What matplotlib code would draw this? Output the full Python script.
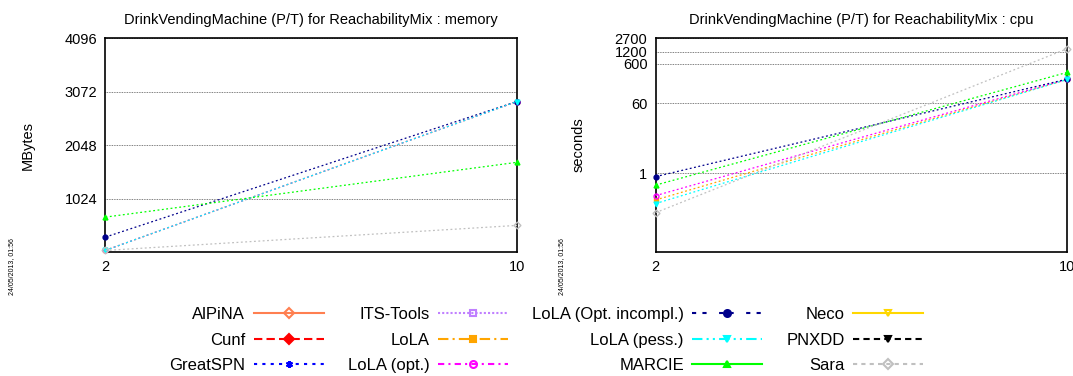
import matplotlib.pyplot as plt
from matplotlib.lines import Line2D

plt.rcParams['font.family'] = ['Liberation Sans', 'DejaVu Sans']

# model sizes (x axis)
sizes = [2, 10]

# tools, in legend order
tools = ["AlPiNA", "Cunf", "GreatSPN", "ITS-Tools", "LoLA", "LoLA (opt.)",
         "LoLA (Opt. incompl.)", "LoLA (pess.)", "MARCIE", "Neco", "PNXDD", "Sara"]

# memory (MBytes) per tool, only tools that produced values
mem_lola = [32, 2881]
mem_lola_opt = [32, 2881]
mem_lola_incompl = [286, 2881]
mem_lola_pess = [32, 2881]
mem_marcie = [668, 1717]
mem_sara = [30, 509]

# cpu (seconds)
cpu_lola = [0.21, 240]
cpu_lola_opt = [0.27, 245]
cpu_lola_incompl = [0.82, 245]
cpu_lola_pess = [0.17, 240]
cpu_marcie = [0.5, 363]
cpu_sara = [0.10, 1450]

memory = {"LoLA": mem_lola, "LoLA (opt.)": mem_lola_opt,
          "LoLA (Opt. incompl.)": mem_lola_incompl, "LoLA (pess.)": mem_lola_pess,
          "MARCIE": mem_marcie, "Sara": mem_sara}
cpu = {"LoLA": cpu_lola, "LoLA (opt.)": cpu_lola_opt,
       "LoLA (Opt. incompl.)": cpu_lola_incompl, "LoLA (pess.)": cpu_lola_pess,
       "MARCIE": cpu_marcie, "Sara": cpu_sara}

mem_ticks = [1024, 2048, 3072, 4096]
cpu_ticks = [1, 60, 600, 1200, 2700]
stamp = "24/05/2013, 01:56"

# colour, dash pattern, marker, marker filled
style = {
    "AlPiNA": ("#ff7f50", "-", "D", False),
    "Cunf": ("#ff0000", (0, (4, 2)), "D", True),
    "GreatSPN": ("#0000ff", (0, (1.5, 2.5)), (6, 2, 0), True),
    "ITS-Tools": ("#c080ff", (0, (1, 1)), "s", False),
    "LoLA": ("#ffa500", (0, (5, 2, 1, 2)), "s", True),
    "LoLA (opt.)": ("#ff00ff", (0, (3, 2, 1, 2)), "o", False),
    "LoLA (Opt. incompl.)": ("#00008b", (0, (2, 3, 2, 6)), "o", True),
    "LoLA (pess.)": ("#00ffff", (0, (5, 2, 1, 2, 1, 2)), "v", True),
    "MARCIE": ("#00ff00", "-", "^", True),
    "Neco": ("#ffd700", "-", "v", False),
    "PNXDD": ("#000000", (0, (3, 2)), "v", True),
    "Sara": ("#c0c0c0", (0, (2, 2)), "D", False),
}

fig = plt.figure(figsize=(10.73, 3.76), dpi=100)
ax1 = fig.add_axes([0.0983, 0.3298, 0.3835, 0.569])
ax2 = fig.add_axes([0.6111, 0.3298, 0.3835, 0.569])


def draw(ax, data):
    for name in tools:
        if name not in data:
            continue
        c, ls, mk, filled = style[name]
        ax.plot(sizes, data[name], color=c, lw=0.9, ls=(0, (1.5, 2)),
                marker=mk, ms=3.5, mfc=c if filled else "none", mec=c, mew=1,
                clip_on=False, zorder=3)


draw(ax1, memory)
ax1.set_ylim(0, 4096)
ax1.set_yticks(mem_ticks)
ax1.set_ylabel("MBytes", fontsize=10.5)
ax1.set_title("DrinkVendingMachine (P/T) for ReachabilityMix : memory",
              fontsize=10.5, pad=10)

draw(ax2, cpu)
ax2.set_yscale("log")
ax2.set_ylim(0.01, 2700)
ax2.set_yticks(cpu_ticks)
ax2.set_yticklabels([str(t) for t in cpu_ticks])
ax2.minorticks_off()
ax2.set_ylabel("seconds", fontsize=10.5)
ax2.set_title("DrinkVendingMachine (P/T) for ReachabilityMix : cpu",
              fontsize=10.5, pad=10)

for ax in (ax1, ax2):
    ax.set_xlim(2, 10)
    ax.set_xticks(sizes)
    ax.set_xticklabels([str(s) for s in sizes])
    ax.tick_params(labelsize=10.5, length=0, pad=6)
    ax.yaxis.grid(True, color="#555555", ls=(0, (1, 1)), lw=0.6)
    ax.yaxis.set_label_coords(-0.171, 0.5)
    for sp in ax.spines.values():
        sp.set_linewidth(1.2)

fig.text(0.011, 0.29, stamp, rotation=90, fontsize=5, ha="center", va="center")
fig.text(0.523, 0.29, stamp, rotation=90, fontsize=5, ha="center", va="center")

handles = []
for name in tools:
    c, ls, mk, filled = style[name]
    handles.append(Line2D([], [], color=c, lw=1.5, ls=ls, marker=mk, ms=5,
                          mfc=c if filled else "none", mec=c, mew=1.5))
fig.legend(handles, tools, ncol=4, markerfirst=False, frameon=False,
           loc="center", bbox_to_anchor=(0.509, 0.0957), fontsize=12,
           handlelength=4.2, handletextpad=0.5, columnspacing=1.45,
           labelspacing=0.62, numpoints=1, borderpad=0)

fig.savefig("out.png", dpi=100)
